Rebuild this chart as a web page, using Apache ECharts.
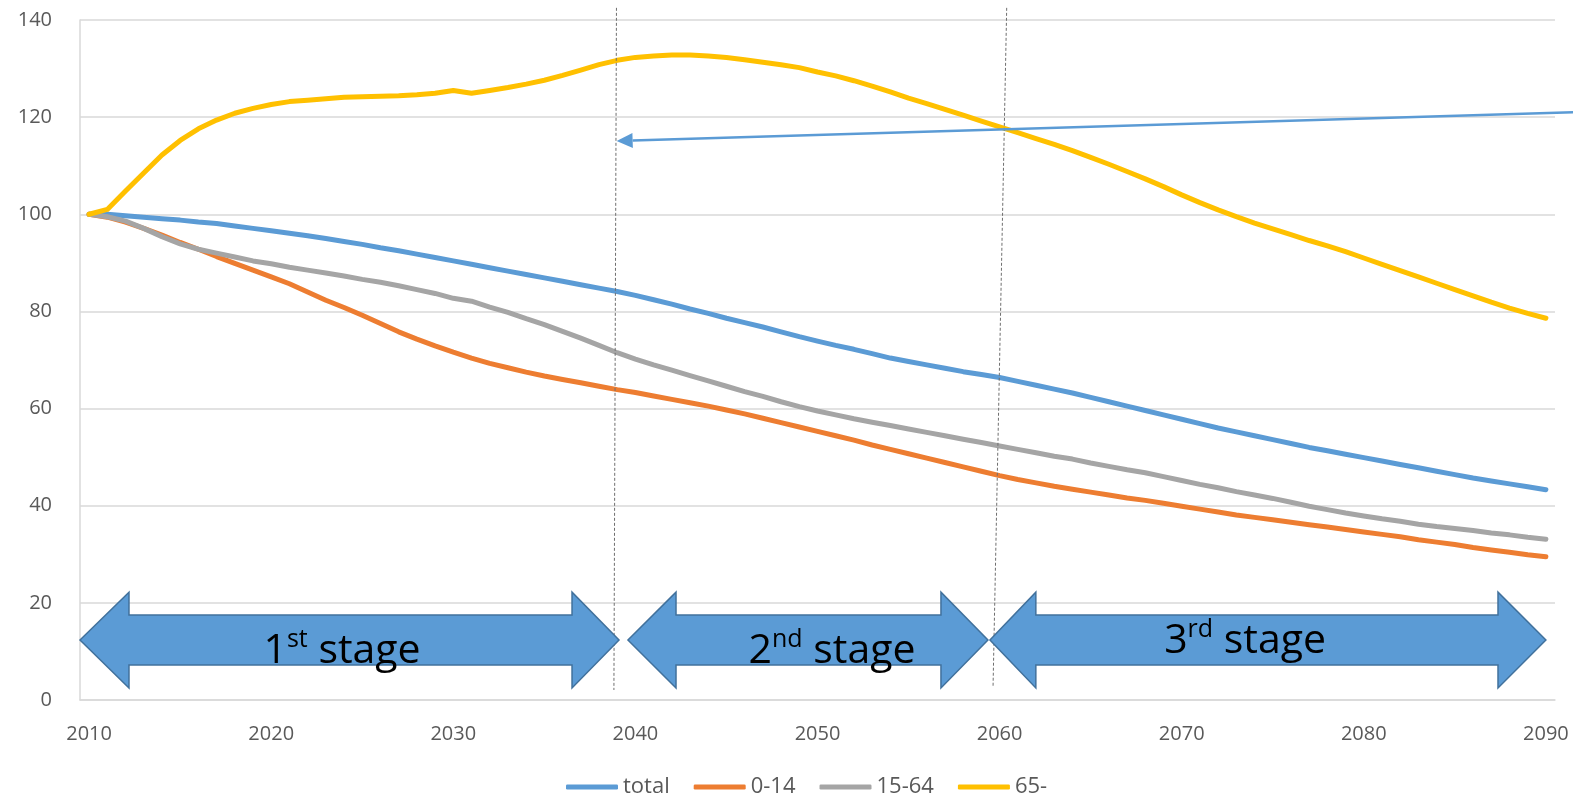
<!DOCTYPE html>
<html>
<head>
<meta charset="utf-8">
<script src="https://cdn.jsdelivr.net/npm/echarts@6/dist/echarts.min.js"></script>
<style>
html,body{margin:0;padding:0;background:#fff;}
#chart{width:1573px;height:796px;}
</style>
</head>
<body>
<div id="chart"></div>
<script>
const years = ['2010','2011','2012','2013','2014','2015','2016','2017','2018','2019',
'2020','2021','2022','2023','2024','2025','2026','2027','2028','2029',
'2030','2031','2032','2033','2034','2035','2036','2037','2038','2039',
'2040','2041','2042','2043','2044','2045','2046','2047','2048','2049',
'2050','2051','2052','2053','2054','2055','2056','2057','2058','2059',
'2060','2061','2062','2063','2064','2065','2066','2067','2068','2069',
'2070','2071','2072','2073','2074','2075','2076','2077','2078','2079',
'2080','2081','2082','2083','2084','2085','2086','2087','2088','2089','2090'];

const seriesNames = ['total', '0-14', '15-64', '65-'];

const total = [100,100,99.7,99.4,99.1,98.8,98.4,98.1,97.6,97.1,
96.6,96.1,95.6,95.0,94.4,93.8,93.1,92.5,91.8,91.1,
90.4,89.7,89.0,88.3,87.6,86.9,86.2,85.5,84.8,84.1,
83.3,82.4,81.5,80.5,79.6,78.6,77.7,76.8,75.8,74.8,
73.9,73.0,72.2,71.3,70.4,69.7,69.0,68.3,67.6,67.0,
66.4,65.6,64.8,64.0,63.2,62.3,61.4,60.5,59.6,58.7,
57.8,56.9,56.0,55.2,54.4,53.6,52.8,52.0,51.3,50.6,
49.9,49.2,48.5,47.8,47.1,46.4,45.7,45.1,44.5,43.9,43.3];

const age0_14 = [100,99.4,98.4,97.1,95.7,94.2,92.8,91.3,89.9,88.5,
87.1,85.7,84.0,82.3,80.8,79.2,77.5,75.8,74.3,72.9,
71.6,70.4,69.3,68.4,67.5,66.7,66.0,65.3,64.6,63.9,
63.3,62.6,61.9,61.2,60.5,59.7,58.9,58.0,57.1,56.2,
55.3,54.4,53.5,52.5,51.6,50.7,49.8,48.9,48.0,47.1,
46.2,45.4,44.7,44.0,43.4,42.8,42.2,41.6,41.1,40.5,
39.9,39.3,38.7,38.1,37.6,37.1,36.6,36.1,35.6,35.1,
34.6,34.1,33.6,33.0,32.5,32.0,31.4,30.9,30.4,29.9,29.5];

const age15_64 = [100,99.5,98.6,97.1,95.4,93.9,92.8,92.0,91.2,90.4,
89.8,89.1,88.5,87.9,87.3,86.6,86.0,85.3,84.5,83.7,
82.7,82.1,80.9,79.8,78.5,77.3,75.9,74.5,73.0,71.5,
70.2,69.0,67.9,66.8,65.7,64.6,63.5,62.5,61.4,60.4,
59.5,58.7,57.9,57.2,56.5,55.8,55.1,54.4,53.7,53.0,
52.3,51.6,50.9,50.2,49.6,48.8,48.1,47.4,46.8,46.0,
45.2,44.4,43.7,42.9,42.2,41.5,40.7,39.9,39.2,38.5,
37.9,37.3,36.8,36.2,35.7,35.3,34.9,34.4,34.0,33.5,33.1];

const age65 = [100,101,104.8,108.5,112.2,115.2,117.6,119.4,120.8,121.8,
122.6,123.2,123.5,123.8,124.1,124.2,124.3,124.4,124.6,124.9,
125.5,124.9,125.5,126.1,126.8,127.6,128.6,129.7,130.8,131.7,
132.3,132.6,132.8,132.8,132.6,132.3,131.8,131.3,130.8,130.2,
129.3,128.5,127.5,126.4,125.2,123.9,122.8,121.6,120.4,119.2,
118.0,116.8,115.6,114.4,113.1,111.7,110.3,108.8,107.3,105.7,
104.0,102.4,100.9,99.5,98.2,97.0,95.8,94.6,93.5,92.3,
91.0,89.7,88.4,87.1,85.8,84.5,83.2,81.9,80.7,79.6,78.6];

const yTicks = [0, 20, 40, 60, 80, 100, 120, 140];

// annotation anchors (year, value) on the chart's scales
const stageDigits = ['1', '2', '3'];
const stageSuffix = ['st', 'nd', 'rd'];
const stageWord = ' stage';
const stageArrowX = [
  [2009.5, 2012.19, 2036.52, 2039.1],
  [2039.59, 2042.23, 2056.78, 2059.36],
  [2059.47, 2061.99, 2087.37, 2090.0]
];
const stageArrowY = [12.35, 22.2, 2.47, 17.5, 7.2]; // tip, headTop, headBottom, bodyTop, bodyBottom
const stageLabelAt = [[2023.89, 10.1], [2050.8, 10.1], [2073.48, 12.1]];
const dividers = [[2038.96, 142.5, 2038.82, 2.06], [2060.39, 142.5, 2059.64, 2.68]];
const pointer = [[2091.5, 121.0], [2038.97, 115.1]];

const colors = ['#5B9BD5', '#ED7D31', '#A5A5A5', '#FFC000'];
const FONT = 'Open Sans';

const chart = echarts.init(document.getElementById('chart'), null, {renderer: 'canvas'});

const lineSeries = [total, age0_14, age15_64, age65].map((d, i) => ({
  name: seriesNames[i],
  type: 'line',
  data: d,
  xAxisIndex: 0,
  yAxisIndex: 0,
  symbol: 'none',
  smooth: false,
  lineStyle: {width: 5, color: colors[i], cap: 'round', join: 'round'},
  itemStyle: {color: colors[i]},
  z: 3
}));

const stageData = stageArrowX.map((a, i) => [a[0], a[1], a[2], a[3], stageLabelAt[i][0], stageLabelAt[i][1], i]);

const stageSeries = {
  type: 'custom',
  xAxisIndex: 1,
  yAxisIndex: 0,
  clip: false,
  z: 5,
  silent: true,
  data: stageData,
  renderItem: function (params, api) {
    const x0 = api.value(0), x1 = api.value(1), x2 = api.value(2), x3 = api.value(3);
    const [yTip, yHT, yHB, yBT, yBB] = stageArrowY;
    const pts = [
      [x0, yTip], [x1, yHT], [x1, yBT], [x2, yBT], [x2, yHT], [x3, yTip],
      [x2, yHB], [x2, yBB], [x1, yBB], [x1, yHB]
    ].map(p => api.coord(p));
    const idx = api.value(6);
    const lp = api.coord([api.value(4), api.value(5)]);
    return {
      type: 'group',
      children: [
        {type: 'polygon', shape: {points: pts},
          style: {fill: '#5B9BD5', stroke: '#41719C', lineWidth: 1.5}},
        {type: 'text', x: lp[0], y: lp[1],
          style: {
            text: '{m|' + stageDigits[idx] + '}{s|' + stageSuffix[idx] + '}{m|' + stageWord + '}',
            align: 'center', verticalAlign: 'middle',
            rich: {
              m: {fontSize: 41, fontFamily: FONT, fill: '#000', lineHeight: 48},
              s: {fontSize: 25, fontFamily: FONT, fill: '#000', verticalAlign: 'top', lineHeight: 31}
            }
          }}
      ]
    };
  }
};

const dividerSeries = {
  type: 'custom',
  xAxisIndex: 1,
  yAxisIndex: 0,
  clip: false,
  z: 4,
  silent: true,
  data: dividers,
  renderItem: function (params, api) {
    const a = api.coord([api.value(0), api.value(1)]);
    const b = api.coord([api.value(2), api.value(3)]);
    return {type: 'line', shape: {x1: a[0], y1: a[1], x2: b[0], y2: b[1]},
      style: {stroke: '#6F6F6F', lineWidth: 1, lineDash: [3, 2]}};
  }
};

const pointerSeries = {
  type: 'custom',
  xAxisIndex: 1,
  yAxisIndex: 0,
  clip: false,
  z: 6,
  silent: true,
  data: [[pointer[0][0], pointer[0][1], pointer[1][0], pointer[1][1]]],
  renderItem: function (params, api) {
    const s = api.coord([api.value(0), api.value(1)]);
    const t = api.coord([api.value(2), api.value(3)]);
    const dx = s[0] - t[0], dy = s[1] - t[1];
    const len = Math.sqrt(dx * dx + dy * dy);
    const ux = dx / len, uy = dy / len;
    const nx = -uy, ny = ux;
    const hl = 16, hw = 7.5;
    const bx = t[0] + ux * hl, by = t[1] + uy * hl;
    return {type: 'group', children: [
      {type: 'line', shape: {x1: s[0], y1: s[1], x2: bx, y2: by},
        style: {stroke: '#5B9BD5', lineWidth: 2.5}},
      {type: 'polygon', shape: {points: [[t[0], t[1]], [bx + nx * hw, by + ny * hw], [bx - nx * hw, by - ny * hw]]},
        style: {fill: '#5B9BD5'}}
    ]};
  }
};

const option = {
  animation: false,
  backgroundColor: '#fff',
  color: colors,
  grid: {left: 80, right: 18, top: 20, bottom: 96, containLabel: false},
  legend: {
    data: seriesNames,
    left: 561,
    top: 771,
    icon: 'roundRect',
    itemWidth: 52,
    itemHeight: 5,
    itemGap: 24,
    textStyle: {fontSize: 22, color: '#595959', fontFamily: FONT}
  },
  xAxis: [
    {
      type: 'category',
      data: years,
      boundaryGap: true,
      axisLine: {show: true, lineStyle: {color: '#D9D9D9', width: 1.5}},
      axisTick: {show: false},
      axisLabel: {interval: 9, fontSize: 20, color: '#595959', fontFamily: FONT, margin: 24},
      splitLine: {show: false}
    },
    {
      type: 'value',
      min: 2009.5,
      max: 2090.5,
      show: false,
      splitLine: {show: false}
    }
  ],
  yAxis: {
    type: 'value',
    min: yTicks[0],
    max: yTicks[yTicks.length - 1],
    interval: yTicks[1] - yTicks[0],
    axisLine: {show: true, lineStyle: {color: '#D9D9D9', width: 1.5}},
    axisTick: {show: false},
    axisLabel: {fontSize: 20, color: '#595959', fontFamily: FONT, margin: 28},
    splitLine: {show: true, lineStyle: {color: '#D9D9D9', width: 1.5}}
  },
  series: [dividerSeries].concat(lineSeries, [stageSeries, pointerSeries])
};

chart.setOption(option);
</script>
</body>
</html>
